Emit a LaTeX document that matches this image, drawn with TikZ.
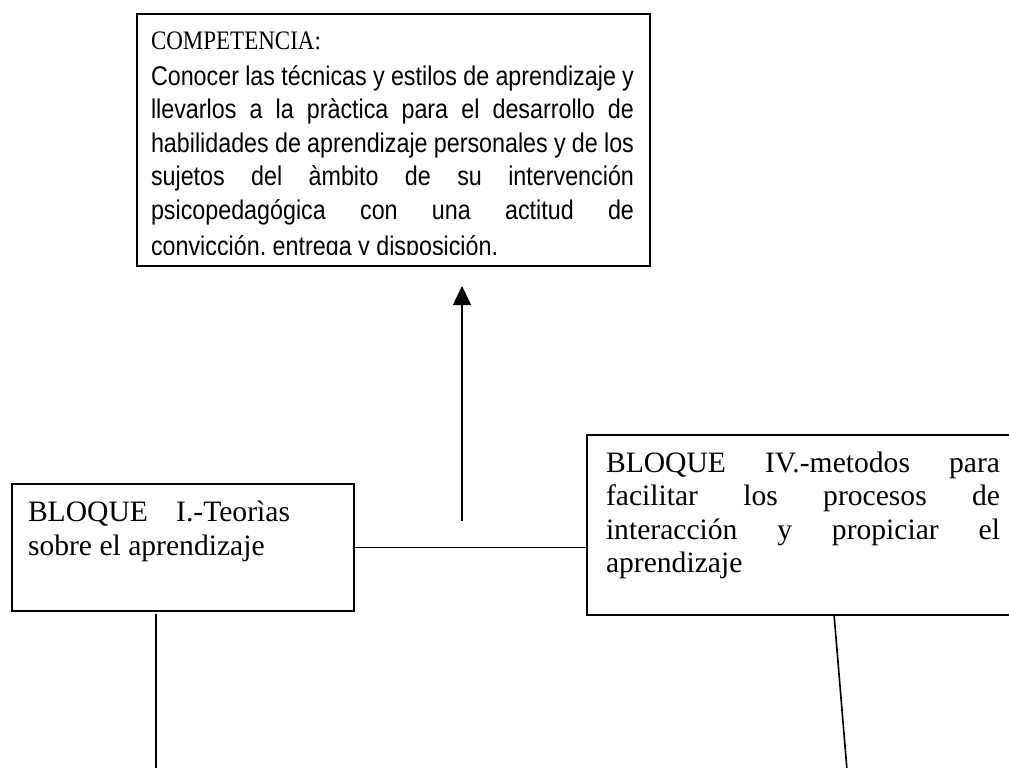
\documentclass[tikz,border=0pt]{standalone}
\usepackage{fontspec}
\usepackage{graphicx}
\setmainfont{Liberation Serif}
\newfontfamily\arialf{Liberation Sans}
\usetikzlibrary{arrows.meta}
\tikzset{
  box/.style={draw=black, line width=1.8pt, rectangle, inner sep=0pt, anchor=north west},
  conn/.style={draw=black, line width=1.6pt},
  txt/.style={anchor=base west, inner sep=0pt, outer sep=0pt},
  arial/.style={font=\arialf\fontsize{23.3}{28}\selectfont},
  times/.style={font=\fontsize{23}{28}\selectfont},
  timesbig/.style={font=\fontsize{29.6}{34}\selectfont}
}
\newcommand{\vs}[1]{\scalebox{1}[1.16]{#1}}
\newcommand{\jline}[2]{\vs{\makebox[#1][s]{#2}}}
\newcommand{\jn}[2]{\makebox[#1][s]{#2}}
\begin{document}
\begin{tikzpicture}[x=1pt,y=-1pt]
\useasboundingbox (0,0) rectangle (1009,768);
\clip (0,0) rectangle (1009,768);
% boxes
\node[box, minimum width=513pt, minimum height=252pt] (comp) at (136,13) {};
\node[box, minimum width=342pt, minimum height=127pt] (L) at (11,483) {};
\node[box, minimum width=440pt, minimum height=180pt] (R) at (586,434) {};
% top text
\begin{scope}
\clip (137,14) rectangle (648,254);
\node[txt, times] (t0) at (151,49) {\vs{COMPETENCIA:}};
\node[txt, arial] (t1) at (151,85) {\jline{483pt}{Conocer las técnicas y estilos de aprendizaje y}};
\node[txt, arial] (t2) at (151,118.6) {\jline{483pt}{llevarlos a la pràctica para el desarrollo de}};
\node[txt, arial] (t3) at (151,152.2) {\jline{483pt}{habilidades de aprendizaje personales y de los}};
\node[txt, arial] (t4) at (151,185.8) {\jline{483pt}{sujetos del àmbito de su intervención}};
\node[txt, arial] (t5) at (151,219.4) {\jline{483pt}{psicopedagógica con una actitud de}};
\node[txt, arial] (t6) at (151,255) {\vs{convicción, entrega y disposición.}};
\end{scope}
% left text
\node[txt, timesbig] (l1) at (28,521) {\jn{262pt}{BLOQUE I.-Teorìas}};
\node[txt, timesbig] (l2) at (28,555) {sobre el aprendizaje};
% right text
\node[txt, timesbig] (r1) at (606,472) {\jn{394pt}{BLOQUE IV.-metodos para}};
\node[txt, timesbig] (r2) at (606,505.5) {\jn{394pt}{facilitar los procesos de}};
\node[txt, timesbig] (r3) at (606,539) {\jn{394pt}{interacción y propiciar el}};
\node[txt, timesbig] (r4) at (606,572.5) {aprendizaje};
% connectors
\coordinate (a0) at (462,521);
\coordinate (a1) at (462,286);
\draw[conn, -{Triangle[width=18pt,length=19pt]}] (a0) -- (a1);
\draw[conn] (L.east) -- (L.east -| R.west);
\coordinate (d0) at (156,614);
\coordinate (d1) at (156,770);
\draw[conn] (d0) -- (d1);
\coordinate (s0) at (834,614);
\coordinate (s1) at (847,770);
\draw[conn] (s0) -- (s1);
\end{tikzpicture}
\end{document}
